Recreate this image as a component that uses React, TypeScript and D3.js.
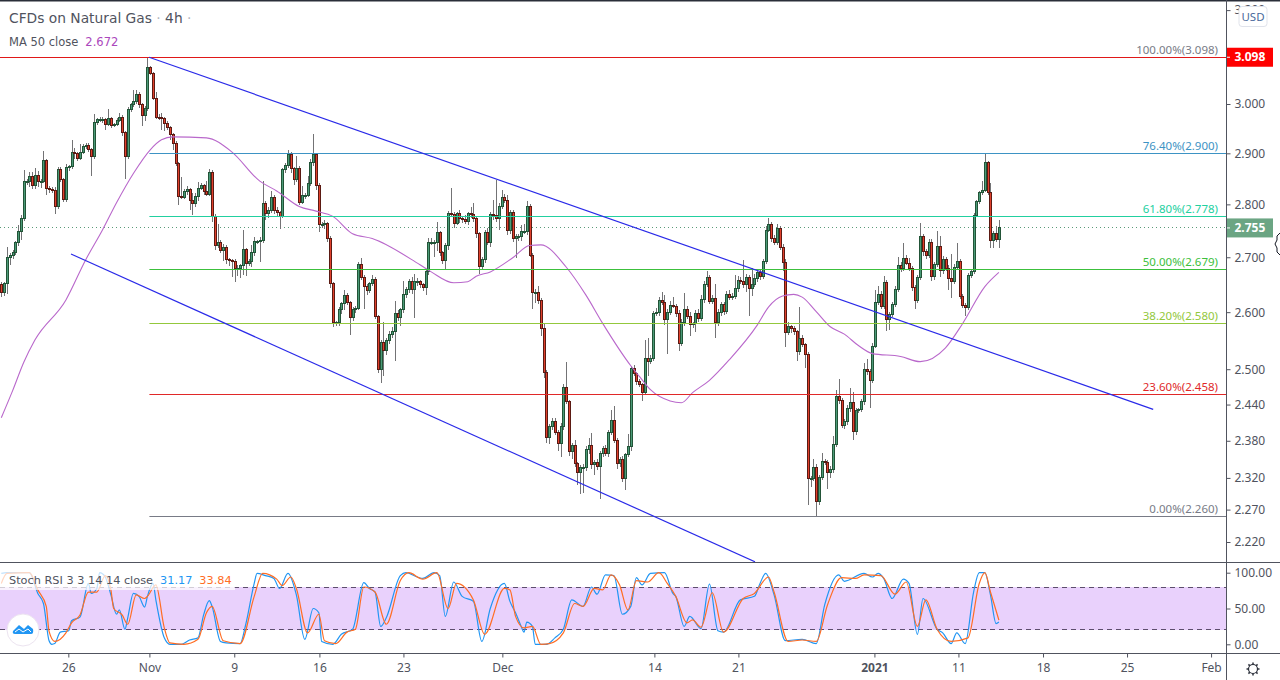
import React, { useEffect, useRef } from 'react';
import * as d3 from 'd3';

// closes of every 4h bar, open is taken from the bar before
const closes = [
  2.635,2.651,2.700,2.704,2.708,2.727,2.748,2.772,2.844,2.844,
  2.855,2.837,2.856,2.844,2.845,2.886,2.831,2.829,2.827,2.796,
  2.867,2.848,2.809,2.872,2.873,2.902,2.899,2.890,2.902,2.914,
  2.915,2.907,2.893,2.962,2.968,2.969,2.969,2.959,2.970,2.957,
  2.958,2.967,2.973,2.941,2.894,2.988,2.998,3.005,3.020,2.998,
  2.976,2.990,3.076,3.064,3.012,2.973,2.972,2.970,2.961,2.952,
  2.937,2.919,2.880,2.815,2.814,2.825,2.828,2.808,2.801,2.815,
  2.831,2.837,2.825,2.820,2.862,2.777,2.722,2.727,2.713,2.719,
  2.695,2.694,2.693,2.680,2.680,2.684,2.714,2.689,2.692,2.708,
  2.729,2.729,2.732,2.801,2.782,2.789,2.814,2.789,2.785,2.777,
  2.867,2.875,2.898,2.870,2.848,2.870,2.804,2.818,2.818,2.840,
  2.881,2.897,2.837,2.761,2.761,2.763,2.735,2.652,2.582,2.582,
  2.604,2.615,2.630,2.617,2.590,2.604,2.607,2.687,2.663,2.646,
  2.639,2.651,2.659,2.592,2.500,2.547,2.533,2.550,2.561,2.565,
  2.598,2.590,2.604,2.632,2.640,2.656,2.640,2.655,2.655,2.650,
  2.645,2.673,2.728,2.728,2.728,2.746,2.708,2.694,2.722,2.782,
  2.780,2.764,2.782,2.772,2.771,2.768,2.782,2.780,2.772,2.744,
  2.682,2.696,2.746,2.728,2.780,2.778,2.772,2.795,2.814,2.808,
  2.750,2.784,2.735,2.739,2.739,2.749,2.749,2.796,2.704,2.635,
  2.635,2.621,2.571,2.495,2.385,2.403,2.411,2.393,2.375,2.403,
  2.469,2.445,2.362,2.373,2.343,2.328,2.336,2.337,2.365,2.373,
  2.341,2.345,2.339,2.359,2.367,2.360,2.393,2.413,2.381,2.343,
  2.350,2.319,2.357,2.371,2.502,2.492,2.479,2.474,2.460,2.519,
  2.513,2.519,2.598,2.599,2.621,2.617,2.587,2.599,2.612,2.611,
  2.598,2.545,2.582,2.605,2.593,2.578,2.579,2.598,2.589,2.623,
  2.650,2.663,2.620,2.625,2.582,2.599,2.614,2.601,2.632,2.626,
  2.629,2.642,2.658,2.655,2.650,2.663,2.643,2.650,2.661,2.672,
  2.664,2.692,2.751,2.761,2.735,2.727,2.754,2.719,2.691,2.564,
  2.574,2.571,2.565,2.530,2.554,2.542,2.526,2.319,2.319,2.336,
  2.283,2.320,2.346,2.344,2.328,2.334,2.374,2.453,2.446,2.405,
  2.411,2.434,2.444,2.395,2.430,2.431,2.445,2.500,2.496,2.481,
  2.540,2.618,2.632,2.611,2.653,2.587,2.596,2.613,2.640,2.685,
  2.679,2.698,2.689,2.680,2.645,2.621,2.662,2.738,2.711,2.703,
  2.728,2.664,2.686,2.720,2.675,2.696,2.680,2.660,2.655,2.681,
  2.692,2.629,2.612,2.609,2.666,2.673,2.779,2.805,2.822,2.827,
  2.881,2.822,2.731,2.744,2.733,2.755,
];

// wick length above the body, thousandths of a dollar
const wickUp = [
  5,3,19,4,6,3,12,8,22,6,
  8,8,14,9,4,19,3,4,5,6,
  5,6,4,6,4,25,8,4,16,4,
  6,5,3,17,3,5,4,3,19,3,
  4,4,8,5,3,6,4,25,10,4,
  4,5,22,3,3,12,6,10,4,5,
  3,4,6,3,38,5,8,3,14,6,
  12,4,3,21,6,4,4,36,6,5,
  3,4,3,3,6,4,38,4,5,14,
  8,4,6,44,5,5,12,4,5,3,
  4,5,8,4,3,25,4,18,4,16,
  8,42,3,4,6,8,4,5,3,3,
  6,4,10,4,3,6,4,4,12,4,
  4,4,8,4,3,3,36,5,6,8,
  22,5,4,25,6,4,8,15,6,4,
  3,4,8,8,5,20,4,3,4,6,
  50,5,4,8,5,8,4,12,22,4,
  4,5,6,8,6,28,70,8,14,6,
  10,6,6,4,5,12,14,10,5,3,
  6,12,4,8,4,5,6,6,4,6,
  6,44,3,4,8,3,4,6,6,12,
  20,4,6,4,5,6,4,18,24,3,
  4,5,3,20,4,5,4,4,3,32,
  35,5,4,8,6,16,14,6,8,16,
  4,5,6,30,6,8,4,5,8,8,
  6,12,5,6,26,6,5,5,6,8,
  6,26,8,6,40,6,5,30,8,6,
  6,5,8,12,6,6,8,5,6,5,
  8,4,4,3,55,5,4,4,4,14,
  6,5,14,4,4,5,14,12,30,5,
  5,6,24,17,5,4,5,10,17,5,
  5,22,16,6,12,5,5,6,8,16,
  6,28,6,10,4,4,6,27,5,5,
  6,6,6,30,20,6,5,6,46,6,
  35,5,4,4,5,6,5,4,3,18,
  18,4,20,5,14,15,
];

// wick length below the body, thousandths of a dollar
const wickDown = [
  8,6,18,14,8,4,6,16,4,6,
  10,8,8,10,12,4,12,8,6,14,
  4,4,4,4,8,4,10,6,4,4,
  6,4,38,4,6,4,8,12,5,6,
  5,4,4,6,44,6,4,4,4,6,
  22,10,4,4,4,4,5,24,16,5,
  10,12,6,16,4,4,6,18,22,6,
  8,4,6,4,4,10,8,4,6,20,
  8,10,30,26,14,18,16,24,6,10,
  6,5,38,6,12,8,6,8,10,24,
  4,6,4,8,10,5,6,4,8,4,
  4,6,10,14,6,8,6,8,8,6,
  6,8,12,4,30,6,5,4,4,40,
  8,4,4,4,6,24,44,8,6,6,
  50,6,14,5,6,5,8,50,8,6,
  6,14,6,6,28,16,5,6,18,8,
  4,10,4,8,6,6,8,6,5,8,
  12,4,6,6,8,8,6,20,4,6,
  8,6,6,36,8,8,6,8,4,30,
  18,6,14,10,8,10,6,4,12,22,
  6,4,6,12,6,20,34,40,6,6,
  6,16,6,52,6,4,6,4,4,8,
  6,6,18,4,8,4,6,4,14,4,
  25,4,4,5,6,5,10,60,4,4,
  6,14,5,6,5,20,6,14,6,4,
  6,5,6,5,28,6,5,6,4,4,
  5,5,6,5,6,14,50,14,4,6,
  5,4,4,4,6,5,4,6,16,26,
  5,8,6,16,6,4,24,42,14,4,
  23,6,4,4,26,8,6,4,5,4,
  6,5,6,13,6,4,4,5,6,46,
  4,4,5,6,6,20,18,5,4,4,
  6,5,4,6,6,16,4,4,8,6,
  5,8,5,4,12,6,6,20,30,4,
  4,6,5,16,5,4,4,4,4,3,
  3,4,13,13,5,16,
];

const maBars = [0,4,8,12,23,30,36,41,47,53,57,61,73,82,92,98,106,112,118,125,132,149,153,161,166,169,174,182,188,192,201,208,214,224,227,231,238,242,246,252,259,269,273,278,282,285,290,295,300,305,310,320,327,336,342,350,355];
const maValues = [2.418,2.463,2.512,2.551,2.622,2.695,2.751,2.803,2.860,2.907,2.927,2.933,2.931,2.903,2.845,2.826,2.796,2.787,2.777,2.744,2.735,2.686,2.673,2.653,2.655,2.665,2.673,2.699,2.722,2.723,2.682,2.631,2.580,2.506,2.488,2.465,2.446,2.443,2.460,2.481,2.516,2.577,2.609,2.629,2.632,2.627,2.601,2.574,2.561,2.541,2.527,2.522,2.513,2.537,2.579,2.646,2.672];

// Stoch RSI %K
const kBars = [0,2,10,13,15,17,18,19,21,24,25,28,31,32,34,35,37,39,41,42,44,45,47,49,51,52,54,55,58,60,64,67,70,72,74,75,78,80,85,87,90,91,94,97,99,102,105,108,111,113,114,118,121,125,129,131,133,135,137,142,144,148,150,154,156,158,161,164,168,171,174,179,181,183,185,186,187,189,190,194,197,200,203,207,210,212,215,218,221,224,226,228,231,236,239,240,243,245,249,252,255,257,263,268,270,272,275,279,285,290,293,298,300,307,310,312,314,317,321,323,326,328,333,335,338,340,343,346,348,350,352,354,355];
const kValues = [99,100,100,71,57,5,0,1,17,19,33,38,85,71,78,100,94,69,42,48,21,37,71,67,52,67,85,62,9,0,0,6,9,41,61,53,4,2,1,28,85,99,96,92,78,99,69,7,50,44,4,0,14,21,86,78,73,25,37,96,100,94,92,100,96,39,87,67,60,4,50,85,60,44,25,17,31,25,0,0,9,21,62,53,80,70,97,96,42,53,93,83,99,100,71,67,25,39,22,84,19,17,62,67,85,99,69,5,7,1,55,97,88,99,94,99,92,64,91,85,14,64,21,16,1,16,1,73,100,100,69,29,31.17];

// Stoch RSI %D
const dBars = [0,2,10,13,16,17,19,23,25,28,31,34,37,39,40,43,45,48,51,52,55,58,60,65,70,73,75,79,85,90,93,98,100,103,105,109,113,115,119,123,126,129,133,137,142,145,150,155,159,162,168,172,179,181,183,186,189,192,195,200,204,207,211,214,217,220,223,226,230,234,237,240,244,246,249,253,257,264,268,273,275,280,285,290,294,299,304,307,313,318,322,326,329,333,338,344,348,350,352,355];
const dValues = [85,99,100,76,53,18,4,16,30,41,73,73,96,76,50,41,28,69,64,67,83,23,2,0,7,44,53,5,1,67,99,91,82,94,78,16,42,5,1,17,21,80,73,28,89,100,91,100,50,85,62,14,78,76,39,23,25,0,1,16,57,53,78,76,97,83,48,89,87,100,85,67,30,34,24,72,17,64,71,94,73,4,6,4,55,93,92,97,96,70,87,25,62,21,4,9,85,100,73,33.84];

// fib retracement from the Nov high to the Dec low
const fibLabels = ['100.00%', '76.40%', '61.80%', '50.00%', '38.20%', '23.60%', '0.00%'];
const fibPrices = [3.098, 2.9, 2.778, 2.679, 2.58, 2.458, 2.26];
const fibColors = ['#787b86', '#3d93c4', '#22d0a0', '#3cc03c', '#93c83c', '#e02828', '#787b86'];

// falling channel, bar and price of both ends
const upperTrendBars = [52.6, 409.9];
const upperTrendPrices = [3.098, 2.432];
const lowerTrendBars = [24.8, 268.2];
const lowerTrendPrices = [2.706, 2.19];

const priceTicks = [3.2, 3.0, 2.9, 2.8, 2.7, 2.6, 2.5, 2.44, 2.38, 2.32, 2.27, 2.22];
const stochTicks = [100, 50, 0];
const stochBandEdges = [80, 20];

const timeTickBars = [23.85, 52.7, 82.9, 113.2, 143.1, 178.3, 232.4, 262.3, 310.7, 340.6, 370.7, 400.6, 430.5];
const timeTickLabels = ['26', 'Nov', '9', '16', '23', 'Dec', '14', '21', '2021', '11', '18', '25', 'Feb'];

const lastPrice = 2.755;
const highPrice = 3.098;

const font = '"DejaVu Sans", sans-serif';
const axisFont = '"Noto Sans", sans-serif';
const textGrey = '#50535e';

const App: React.FC = () => {
  const svgRef = useRef<SVGSVGElement>(null);

  useEffect(() => {
    if (!svgRef.current) return;
    const svg = d3.select(svgRef.current);
    svg.selectAll('*').remove();

    const plotRight = 1226;
    const mainBottom = 562;
    const stochBottom = 653;

    const x = d3.scaleLinear().domain([0, 355]).range([1.3, 998.9]);
    const y = d3.scaleLog().domain([3, 2.22]).range([104, 542]);
    const yStoch = d3.scaleLinear().domain([0, 100]).range([644.3, 572.7]);

    // snap a level onto a whole pixel row so 1px lines stay sharp
    const row = (price: number) => Math.round(y(price)) + 0.5;

    const defs = svg.append('defs');
    defs.append('clipPath').attr('id', 'main-clip').append('rect')
      .attr('x', 0).attr('y', 0).attr('width', plotRight).attr('height', mainBottom);
    defs.append('clipPath').attr('id', 'stoch-clip').append('rect')
      .attr('x', 0).attr('y', mainBottom).attr('width', plotRight).attr('height', stochBottom - mainBottom);

    svg.append('rect').attr('width', 1280).attr('height', 680).attr('fill', '#fff');

    const main = svg.append('g').attr('clip-path', 'url(#main-clip)');

    // last price dotted line
    main.append('line')
      .attr('x1', 0).attr('x2', plotRight)
      .attr('y1', Math.floor(y(lastPrice)) + 0.5).attr('y2', Math.floor(y(lastPrice)) + 0.5)
      .attr('stroke', '#5a9a78').attr('stroke-dasharray', '1 3');

    // wicks
    main.append('g').attr('shape-rendering', 'crispEdges')
      .selectAll('line').data(closes).join('line')
      .attr('x1', (_, i) => Math.round(x(i)) + 0.5)
      .attr('x2', (_, i) => Math.round(x(i)) + 0.5)
      .attr('y1', (c, i) => y(Math.max(c, i ? closes[i - 1] : 2.65) + wickUp[i] / 1000))
      .attr('y2', (c, i) => y(Math.min(c, i ? closes[i - 1] : 2.65) - wickDown[i] / 1000))
      .attr('stroke', '#737375');

    // bodies
    main.append('g').attr('shape-rendering', 'crispEdges')
      .selectAll('rect').data(closes).join('rect')
      .attr('x', (_, i) => Math.round(x(i)) - 0.5)
      .attr('width', 2)
      .attr('y', (c, i) => y(Math.max(c, i ? closes[i - 1] : 2.65)))
      .attr('height', (c, i) => Math.max(1, y(Math.min(c, i ? closes[i - 1] : 2.65)) - y(Math.max(c, i ? closes[i - 1] : 2.65))))
      .attr('fill', (c, i) => (c >= (i ? closes[i - 1] : 2.65) ? '#4b9a78' : '#e0402c'))
      .attr('stroke', (c, i) => (c >= (i ? closes[i - 1] : 2.65) ? '#225437' : '#5b1a13'));

    // MA 50
    const maLine = d3.line<number>()
      .x((_, i) => x(maBars[i]))
      .y((d) => y(d))
      .curve(d3.curveMonotoneX);
    main.append('path').attr('d', maLine(maValues)!)
      .attr('fill', 'none').attr('stroke', '#b968cb').attr('stroke-width', 1.1);

    // fib levels
    const fibStart = x(52.7);
    main.append('line')
      .attr('x1', 0).attr('x2', plotRight)
      .attr('y1', row(highPrice)).attr('y2', row(highPrice))
      .attr('stroke', '#e01818');
    fibPrices.forEach((p, i) => {
      if (i > 0) {
        main.append('line')
          .attr('x1', fibStart).attr('x2', plotRight)
          .attr('y1', row(p)).attr('y2', row(p))
          .attr('stroke', fibColors[i]);
      }
      main.append('text')
        .attr('x', 1218).attr('y', y(p) - 3)
        .attr('text-anchor', 'end')
        .attr('font-family', axisFont).attr('font-size', 11.5)
        .attr('fill', fibColors[i])
        .text(`${fibLabels[i]}(${p.toFixed(3)})`);
    });

    // channel
    const trendLine = d3.line<number>().x((d) => x(d));
    main.append('path')
      .attr('d', trendLine.y((_, i) => y(upperTrendPrices[i]))(upperTrendBars)!)
      .attr('stroke', '#2a2ae8').attr('stroke-width', 1.2).attr('fill', 'none');
    main.append('path')
      .attr('d', trendLine.y((_, i) => y(lowerTrendPrices[i]))(lowerTrendBars)!)
      .attr('stroke', '#2a2ae8').attr('stroke-width', 1.2).attr('fill', 'none');

    // stoch pane
    const stoch = svg.append('g').attr('clip-path', 'url(#stoch-clip)');
    stoch.append('rect')
      .attr('x', 0).attr('width', plotRight)
      .attr('y', yStoch(stochBandEdges[0]))
      .attr('height', yStoch(stochBandEdges[1]) - yStoch(stochBandEdges[0]))
      .attr('fill', '#e9d1fc');
    stochBandEdges.forEach((v) => {
      stoch.append('line')
        .attr('x1', 0).attr('x2', plotRight)
        .attr('y1', yStoch(v)).attr('y2', yStoch(v))
        .attr('stroke', '#5d4e6d').attr('stroke-dasharray', '5 4')
        .attr('shape-rendering', 'crispEdges');
    });
    const kLine = d3.line<number>().x((_, i) => x(kBars[i])).y((d) => yStoch(d)).curve(d3.curveMonotoneX);
    const dLine = d3.line<number>().x((_, i) => x(dBars[i])).y((d) => yStoch(d)).curve(d3.curveMonotoneX);
    stoch.append('path').attr('d', kLine(kValues)!).attr('fill', 'none').attr('stroke', '#2196f3').attr('stroke-width', 1.2);
    stoch.append('path').attr('d', dLine(dValues)!).attr('fill', 'none').attr('stroke', '#ff6d24').attr('stroke-width', 1.2);

    // stoch legend over the lines
    svg.append('rect').attr('x', 0).attr('y', 571).attr('width', 235).attr('height', 19).attr('fill', '#fff').attr('opacity', 0.72);
    const stochLegend = svg.append('text')
      .attr('x', 9).attr('y', 584)
      .attr('font-family', font).attr('font-size', 11.3).attr('fill', textGrey);
    stochLegend.append('tspan').text('Stoch RSI 3 3 14 14 close');
    stochLegend.append('tspan').attr('dx', 7).attr('fill', '#2196f3').text(kValues[kValues.length - 1].toFixed(2));
    stochLegend.append('tspan').attr('dx', 7).attr('fill', '#ff6d24').text(dValues[dValues.length - 1].toFixed(2));

    // header
    svg.append('rect').attr('width', 1280).attr('height', 1.5).attr('fill', '#2a2e39');
    const title = svg.append('text').attr('x', 9).attr('y', 23)
      .attr('font-family', font).attr('font-size', 13.8).attr('fill', textGrey);
    title.append('tspan').text('CFDs on Natural Gas ');
    title.append('tspan').attr('fill', '#b2b5be').text('·');
    title.append('tspan').text(' 4h ');
    title.append('tspan').attr('fill', '#b2b5be').text('·');
    const maLegend = svg.append('text').attr('x', 9).attr('y', 46)
      .attr('font-family', font).attr('font-size', 11.5).attr('fill', textGrey);
    maLegend.append('tspan').text('MA 50 close');
    maLegend.append('tspan').attr('dx', 7).attr('fill', '#ab47bc').text(maValues[maValues.length - 1].toFixed(3));

    // price axis
    const priceAxis = d3.axisRight(y)
      .tickValues(priceTicks)
      .tickSize(4)
      .tickPadding(4)
      .tickFormat((d) => (+d).toFixed(3));
    const priceG = svg.append('g').attr('transform', `translate(${plotRight + 0.5},0)`).call(priceAxis as any);
    const stochAxis = d3.axisRight(yStoch)
      .tickValues(stochTicks)
      .tickSize(4)
      .tickPadding(4)
      .tickFormat((d) => (+d).toFixed(2));
    const stochG = svg.append('g').attr('transform', `translate(${plotRight + 0.5},0)`).call(stochAxis as any);
    [priceG, stochG].forEach((g) => {
      g.select('.domain').remove();
      g.selectAll('line').attr('stroke', textGrey);
      g.selectAll('text').attr('font-family', axisFont).attr('font-size', 12).attr('fill', textGrey);
    });

    // time axis
    const timeAxis = d3.axisBottom(x)
      .tickValues(timeTickBars)
      .tickSize(4)
      .tickPadding(6)
      .tickFormat((_, i) => timeTickLabels[i]);
    const timeG = svg.append('g').attr('transform', `translate(0,${stochBottom + 0.5})`).call(timeAxis as any);
    timeG.select('.domain').remove();
    timeG.selectAll('line').attr('stroke', textGrey);
    timeG.selectAll('text')
      .attr('font-family', axisFont).attr('font-size', 12).attr('fill', textGrey)
      .attr('font-weight', (_, i) => (timeTickLabels[i] === '2021' ? 'bold' : 'normal'));

    // pane borders
    const border = svg.append('g').attr('stroke', textGrey).attr('shape-rendering', 'crispEdges');
    border.append('line').attr('x1', plotRight + 0.5).attr('x2', plotRight + 0.5).attr('y1', 0).attr('y2', 680);
    border.append('line').attr('x1', 0).attr('x2', 1280).attr('y1', mainBottom + 0.5).attr('y2', mainBottom + 0.5);
    border.append('line').attr('x1', 0).attr('x2', 1280).attr('y1', stochBottom + 0.5).attr('y2', stochBottom + 0.5);

    // price flags
    const flag = (price: number, color: string) => {
      svg.append('rect').attr('x', plotRight + 1).attr('y', y(price) - 9.5).attr('width', 46).attr('height', 19).attr('fill', color);
      svg.append('line')
        .attr('x1', plotRight + 1).attr('x2', plotRight + 4)
        .attr('y1', y(price)).attr('y2', y(price)).attr('stroke', '#fff');
      svg.append('text')
        .attr('x', plotRight + 8.5).attr('y', y(price) + 4)
        .attr('font-family', axisFont).attr('font-size', 12).attr('font-weight', 'bold').attr('fill', '#fff')
        .text(price.toFixed(3));
    };
    flag(highPrice, '#ff0000');
    flag(lastPrice, '#6ba583');

    // USD button
    svg.append('rect').attr('x', 1239).attr('y', 6.5).attr('width', 28).attr('height', 20).attr('rx', 3)
      .attr('fill', '#fff').attr('stroke', '#e0e3eb');
    svg.append('text').attr('x', 1253).attr('y', 21).attr('text-anchor', 'middle')
      .attr('font-family', axisFont).attr('font-size', 11.5).attr('fill', '#4a6a9c').text('USD');

    // scale handle at the right edge
    svg.append('path').attr('d', 'M1280 233 L1277 236 V240 L1275 244 L1277 248 V252 L1280 255')
      .attr('fill', 'none').attr('stroke', '#131722');

    // gear
    const gear = svg.append('g').attr('transform', 'translate(1253,669)').attr('stroke', '#2a2e39').attr('fill', 'none');
    gear.append('circle').attr('r', 4.5).attr('stroke-width', 1.2);
    d3.range(8).forEach((k) => {
      const a = (k * Math.PI) / 4;
      gear.append('line')
        .attr('x1', 4.5 * Math.cos(a)).attr('y1', 4.5 * Math.sin(a))
        .attr('x2', 6.5 * Math.cos(a)).attr('y2', 6.5 * Math.sin(a))
        .attr('stroke-width', 1.5);
    });

    // chart logo
    const logo = svg.append('g').attr('transform', 'translate(23,630)');
    logo.append('circle').attr('r', 16).attr('fill', '#fff').attr('stroke', '#ece4f0').attr('stroke-width', 1);
    logo.append('path')
      .attr('d', 'M-10 1 L-4 -5 L1 -1 L5 -5 L10 -1 Q11 4 8 4 H-8 Q-11 4 -10 1 Z')
      .attr('fill', '#2196f3');
    logo.append('path')
      .attr('d', 'M-8 2 L-4 -1 L0 2 L5 -1 L8 2')
      .attr('fill', 'none').attr('stroke', '#fff').attr('stroke-width', 1);
  }, []);

  return (
    <>
      <style>{'body{margin:0}'}</style>
      <svg ref={svgRef} width={1280} height={680} style={{ display: 'block' }}></svg>
    </>
  );
};

export default App;
